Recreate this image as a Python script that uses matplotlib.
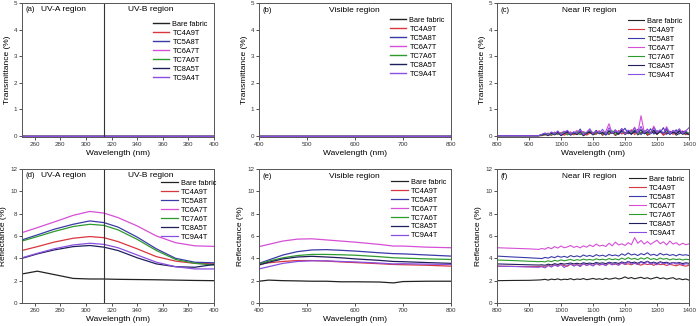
import numpy as np
import matplotlib
matplotlib.use("Agg")
import matplotlib.pyplot as plt

plt.rcParams['font.family'] = ['Liberation Sans', 'DejaVu Sans']

samples = ["Bare fabric", "TC4A9T", "TC5A8T", "TC6A7T", "TC7A6T", "TC8A5T", "TC9A4T"]
colors = ["#222222", "#d9363e", "#3a3aa8", "#d64fd6", "#2e9a2e", "#1f1f5c", "#8a4fe0"]

# ---- wavelength grids ----
wl_uv = [250, 262, 275, 290, 303, 314, 325, 340, 355, 370, 385, 400]
wl_vis = [400, 420, 450, 480, 510, 540, 570, 600, 650, 680, 700, 750, 800]
wl_nir = np.concatenate([[800, 850, 900, 930], np.arange(940, 1401, 10)])
wl_uv_flat = [250, 400]
wl_vis_flat = [400, 800]

# ---- transmittance (%) ----
trans_uv_flat = [0.0, 0.0]
trans_vis_flat = [0.0, 0.0]
trans_nir = {
    "Bare fabric": [0, 0, 0, 0,
        0.02, 0.05, 0.00, 0.08, 0.03, 0.10, 0.01, 0.06, 0.12, 0.02, 0.09, 0.04, 0.11, 0.00, 0.07, 0.13,
        0.03, 0.08, 0.15, 0.02, 0.10, 0.05, 0.14, 0.01, 0.09, 0.18, 0.04, 0.12, 0.06, 0.20, 0.03, 0.11,
        0.16, 0.02, 0.08, 0.14, 0.05, 0.19, 0.03, 0.10, 0.07, 0.15, 0.02, 0.09, 0.12, 0.04, 0.08],
    "TC4A9T": [0, 0, 0, 0,
        0.00, 0.03, 0.07, 0.01, 0.10, 0.04, 0.12, 0.02, 0.08, 0.14, 0.03, 0.11, 0.06, 0.16, 0.02, 0.09,
        0.13, 0.05, 0.18, 0.03, 0.12, 0.07, 0.15, 0.02, 0.20, 0.06, 0.13, 0.09, 0.22, 0.04, 0.14, 0.08,
        0.17, 0.03, 0.12, 0.19, 0.06, 0.14, 0.02, 0.11, 0.16, 0.05, 0.13, 0.08, 0.18, 0.04, 0.10],
    "TC5A8T": [0, 0, 0, 0,
        0.04, 0.09, 0.02, 0.12, 0.05, 0.15, 0.03, 0.10, 0.18, 0.04, 0.13, 0.07, 0.25, 0.03, 0.12, 0.16,
        0.05, 0.20, 0.08, 0.14, 0.02, 0.17, 0.10, 0.22, 0.05, 0.15, 0.28, 0.07, 0.18, 0.11, 0.24, 0.04,
        0.16, 0.09, 0.26, 0.06, 0.19, 0.12, 0.30, 0.05, 0.17, 0.10, 0.22, 0.07, 0.14, 0.18, 0.06],
    "TC6A7T": [0, 0, 0, 0,
        0.02, 0.06, 0.10, 0.03, 0.14, 0.05, 0.11, 0.17, 0.04, 0.13, 0.08, 0.20, 0.05, 0.15, 0.09, 0.22,
        0.06, 0.12, 0.18, 0.07, 0.16, 0.45, 0.08, 0.19, 0.10, 0.26, 0.06, 0.17, 0.12, 0.32, 0.09, 0.75,
        0.14, 0.24, 0.08, 0.36, 0.11, 0.20, 0.07, 0.34, 0.10, 0.18, 0.06, 0.22, 0.09, 0.15, 0.05],
    "TC7A6T": [0, 0, 0, 0,
        0.01, 0.04, 0.08, 0.02, 0.11, 0.05, 0.09, 0.14, 0.03, 0.10, 0.06, 0.15, 0.04, 0.12, 0.08, 0.17,
        0.05, 0.11, 0.14, 0.06, 0.13, 0.09, 0.18, 0.05, 0.12, 0.20, 0.07, 0.15, 0.10, 0.21, 0.06, 0.14,
        0.18, 0.08, 0.13, 0.22, 0.07, 0.16, 0.10, 0.19, 0.06, 0.14, 0.09, 0.17, 0.05, 0.12, 0.08],
    "TC8A5T": [0, 0, 0, 0,
        0.03, 0.07, 0.02, 0.10, 0.05, 0.13, 0.02, 0.09, 0.15, 0.04, 0.11, 0.06, 0.16, 0.03, 0.10, 0.14,
        0.05, 0.17, 0.07, 0.12, 0.04, 0.19, 0.08, 0.14, 0.06, 0.21, 0.09, 0.16, 0.05, 0.18, 0.10, 0.23,
        0.07, 0.15, 0.11, 0.20, 0.06, 0.17, 0.09, 0.24, 0.05, 0.13, 0.08, 0.18, 0.06, 0.11, 0.04],
    "TC9A4T": [0, 0, 0, 0,
        0.05, 0.10, 0.03, 0.14, 0.06, 0.18, 0.04, 0.12, 0.20, 0.05, 0.15, 0.08, 0.22, 0.04, 0.13, 0.26,
        0.07, 0.17, 0.10, 0.24, 0.05, 0.30, 0.09, 0.19, 0.12, 0.27, 0.06, 0.21, 0.14, 0.29, 0.08, 0.35,
        0.11, 0.25, 0.07, 0.31, 0.12, 0.22, 0.09, 0.28, 0.06, 0.20, 0.13, 0.26, 0.08, 0.18, 0.30],
}

# ---- reflectance (%) ----
refl_uv = {
    "Bare fabric": [2.60, 2.85, 2.55, 2.20, 2.15, 2.15, 2.12, 2.10, 2.08, 2.05, 2.02, 2.00],
    "TC4A9T": [4.70, 5.05, 5.45, 5.80, 5.95, 5.85, 5.50, 4.85, 4.15, 3.75, 3.55, 3.50],
    "TC5A8T": [5.65, 6.10, 6.60, 7.05, 7.35, 7.20, 6.80, 5.90, 4.85, 4.00, 3.65, 3.60],
    "TC6A7T": [6.30, 6.75, 7.25, 7.85, 8.20, 8.05, 7.65, 6.90, 6.00, 5.40, 5.12, 5.07],
    "TC7A6T": [5.55, 5.95, 6.40, 6.85, 7.05, 6.95, 6.55, 5.70, 4.70, 3.90, 3.55, 3.40],
    "TC8A5T": [4.00, 4.40, 4.75, 5.05, 5.15, 5.00, 4.70, 4.05, 3.50, 3.25, 3.20, 3.45],
    "TC9A4T": [4.05, 4.45, 4.85, 5.20, 5.35, 5.25, 4.95, 4.30, 3.65, 3.25, 3.05, 3.05],
}
refl_vis = {
    "Bare fabric": [1.95, 2.05, 2.00, 1.98, 1.95, 1.95, 1.90, 1.90, 1.88, 1.80, 1.92, 1.95, 1.95],
    "TC4A9T": [3.45, 3.60, 3.72, 3.80, 3.80, 3.75, 3.68, 3.62, 3.52, 3.45, 3.43, 3.38, 3.30],
    "TC5A8T": [3.55, 3.85, 4.30, 4.60, 4.75, 4.78, 4.72, 4.65, 4.50, 4.42, 4.40, 4.30, 4.20],
    "TC6A7T": [5.05, 5.25, 5.55, 5.72, 5.75, 5.65, 5.55, 5.45, 5.25, 5.10, 5.10, 5.00, 4.95],
    "TC7A6T": [3.50, 3.75, 4.05, 4.25, 4.35, 4.35, 4.32, 4.28, 4.15, 4.05, 4.02, 3.95, 3.90],
    "TC8A5T": [3.40, 3.65, 3.95, 4.12, 4.18, 4.12, 4.05, 3.95, 3.82, 3.72, 3.70, 3.62, 3.55],
    "TC9A4T": [3.05, 3.25, 3.55, 3.72, 3.78, 3.78, 3.72, 3.68, 3.58, 3.50, 3.52, 3.48, 3.45],
}
refl_nir = {
    "Bare fabric": [2.00, 2.02, 2.03, 2.06,
        2.08, 2.12, 2.05, 2.14, 2.09, 2.16, 2.07, 2.13, 2.10, 2.18, 2.08, 2.15, 2.11, 2.19, 2.09, 2.14,
        2.20, 2.12, 2.17, 2.10, 2.22, 2.13, 2.18, 2.25, 2.15, 2.21, 2.34, 2.20, 2.28, 2.17, 2.24, 2.30,
        2.19, 2.26, 2.15, 2.23, 2.31, 2.18, 2.25, 2.14, 2.21, 2.27, 2.12, 2.18, 2.09, 2.15, 2.05],
    "TC4A9T": [3.30, 3.28, 3.25, 3.26,
        3.30, 3.22, 3.38, 3.28, 3.42, 3.31, 3.45, 3.35, 3.29, 3.48, 3.36, 3.44, 3.33, 3.50, 3.39, 3.46,
        3.35, 3.52, 3.41, 3.47, 3.38, 3.55, 3.43, 3.49, 3.40, 3.58, 3.45, 3.51, 3.42, 3.56, 3.47, 3.39,
        3.53, 3.44, 3.50, 3.37, 3.54, 3.43, 3.48, 3.36, 3.46, 3.40, 3.33, 3.44, 3.36, 3.30, 3.38],
    "TC5A8T": [4.20, 4.12, 4.05, 4.00,
        3.98, 4.08, 4.02, 4.15, 4.06, 4.20, 4.10, 4.18, 4.08, 4.25, 4.14, 4.22, 4.12, 4.30, 4.18, 4.26,
        4.15, 4.33, 4.21, 4.28, 4.17, 4.35, 4.24, 4.30, 4.20, 4.40, 4.27, 4.48, 4.30, 4.38, 4.25, 4.42,
        4.32, 4.50, 4.28, 4.36, 4.24, 4.45, 4.30, 4.38, 4.26, 4.34, 4.22, 4.36, 4.28, 4.32, 4.25],
    "TC6A7T": [4.95, 4.90, 4.85, 4.80,
        4.88, 4.82, 4.98, 4.86, 5.05, 4.92, 5.10, 4.95, 5.02, 5.15, 4.98, 5.08, 4.94, 5.12, 5.00, 5.20,
        5.05, 5.28, 5.10, 5.18, 5.06, 5.35, 5.12, 5.45, 5.20, 5.30, 5.15, 5.40, 5.22, 5.85, 5.35, 5.60,
        5.28, 5.50, 5.25, 5.45, 5.62, 5.30, 5.48, 5.20, 5.55, 5.28, 5.40, 5.18, 5.35, 5.22, 5.30],
    "TC7A6T": [3.85, 3.80, 3.74, 3.70,
        3.72, 3.68, 3.78, 3.70, 3.82, 3.75, 3.86, 3.78, 3.84, 3.90, 3.80, 3.88, 3.82, 3.93, 3.85, 3.90,
        3.83, 3.96, 3.87, 3.92, 3.85, 3.98, 3.88, 3.95, 3.86, 4.02, 3.90, 4.06, 3.92, 4.00, 3.88, 4.04,
        3.93, 4.08, 3.90, 3.98, 3.87, 4.03, 3.92, 3.99, 3.86, 3.96, 3.89, 3.94, 3.85, 3.92, 3.88],
    "TC8A5T": [3.50, 3.46, 3.42, 3.40,
        3.42, 3.38, 3.48, 3.41, 3.52, 3.45, 3.55, 3.48, 3.53, 3.58, 3.50, 3.56, 3.49, 3.60, 3.53, 3.58,
        3.51, 3.63, 3.55, 3.60, 3.52, 3.65, 3.57, 3.62, 3.54, 3.68, 3.58, 3.72, 3.60, 3.66, 3.56, 3.70,
        3.61, 3.74, 3.58, 3.66, 3.55, 3.69, 3.60, 3.65, 3.54, 3.63, 3.57, 3.62, 3.53, 3.60, 3.55],
    "TC9A4T": [3.30, 3.27, 3.23, 3.20,
        3.25, 3.15, 3.35, 3.22, 3.40, 3.28, 3.45, 3.18, 3.38, 3.50, 3.30, 3.44, 3.26, 3.52, 3.36, 3.47,
        3.32, 3.56, 3.40, 3.49, 3.35, 3.60, 3.42, 3.55, 3.38, 3.64, 3.45, 3.70, 3.48, 3.58, 3.43, 3.66,
        3.50, 3.72, 3.46, 3.60, 3.42, 3.65, 3.50, 3.58, 3.44, 3.62, 3.48, 3.55, 3.42, 3.52, 3.47],
}

W, H = 696, 326
fig = plt.figure(figsize=(W / 100, H / 100), dpi=100)


def make_ax(left_px, top_px):
    return fig.add_axes([left_px / W, (H - top_px - 134) / H, 192 / W, 134 / H])


def style(ax, xlim, xticks, ylim, yticks, ylabel):
    ax.set_xlim(*xlim)
    ax.set_ylim(*ylim)
    ax.set_xticks(xticks)
    ax.set_yticks(yticks)
    ax.tick_params(labelsize=4.5, length=2, width=0.6, pad=1.5, colors="#333333")
    for s in ax.spines.values():
        s.set_color("#555555")
        s.set_linewidth(0.7)
    ax.set_xlabel("Wavelength (nm)", fontsize=6, labelpad=2)
    ax.set_ylabel(ylabel, fontsize=6, labelpad=2)


def add_legend(ax, x, y):
    ax.legend(loc="upper left", bbox_to_anchor=(x, y), frameon=False, fontsize=5.3,
              handlelength=2.3, handletextpad=0.4, labelspacing=0.25, borderpad=0, borderaxespad=0)


panels = [
    ("a", 22, 3), ("b", 259, 3), ("c", 497, 3),
    ("d", 22, 169), ("e", 259, 169), ("f", 497, 169),
]
axs = {k: make_ax(l, t) for k, l, t in panels}

for name, c in zip(samples, colors):
    axs["a"].plot(wl_uv_flat, trans_uv_flat, color=c, lw=1.0, label=name)
    axs["b"].plot(wl_vis_flat, trans_vis_flat, color=c, lw=1.0, label=name)
    axs["c"].plot(wl_nir, trans_nir[name], color=c, lw=0.8, label=name)
    axs["d"].plot(wl_uv, refl_uv[name], color=c, lw=0.9, label=name)
    axs["e"].plot(wl_vis, refl_vis[name], color=c, lw=0.9, label=name)
    axs["f"].plot(wl_nir, refl_nir[name], color=c, lw=0.8, label=name)

style(axs["a"], (250, 400), range(260, 401, 20), (-0.05, 5), range(0, 6), "Transmittance (%)")
style(axs["b"], (400, 800), range(400, 801, 100), (-0.05, 5), range(0, 6), "Transmittance (%)")
style(axs["c"], (800, 1400), range(800, 1401, 100), (-0.05, 5), range(0, 6), "Transmittance (%)")
style(axs["d"], (250, 400), range(260, 401, 20), (0, 12), range(0, 13, 2), "Reflectance (%)")
style(axs["e"], (400, 800), range(400, 801, 100), (0, 12), range(0, 13, 2), "Reflectance (%)")
style(axs["f"], (800, 1400), range(800, 1401, 100), (0, 12), range(0, 13, 2), "Reflectance (%)")

for k in ("a", "d"):
    axs[k].axvline(314, color="#333333", lw=0.8)
    axs[k].text(0.02, 0.955, f"({k})", transform=axs[k].transAxes, fontsize=5.5, va="center")
    axs[k].text(0.10, 0.955, "UV-A region", transform=axs[k].transAxes, fontsize=6, va="center")
    axs[k].text(0.55, 0.955, "UV-B region", transform=axs[k].transAxes, fontsize=6, va="center")
for k in ("b", "e"):
    axs[k].text(0.02, 0.945, f"({k})", transform=axs[k].transAxes, fontsize=5.5, va="center")
    axs[k].text(0.495, 0.945, "Visible region", transform=axs[k].transAxes, fontsize=6,
                va="center", ha="center")
for k in ("c", "f"):
    axs[k].text(0.02, 0.945, f"({k})", transform=axs[k].transAxes, fontsize=5.5, va="center")
    axs[k].text(0.48, 0.945, "Near IR region", transform=axs[k].transAxes, fontsize=6,
                va="center", ha="center")

add_legend(axs["a"], 0.68, 0.87)
add_legend(axs["b"], 0.68, 0.90)
add_legend(axs["c"], 0.68, 0.89)
add_legend(axs["d"], 0.725, 0.92)
add_legend(axs["e"], 0.69, 0.93)
add_legend(axs["f"], 0.69, 0.95)

fig.savefig("out.png", dpi=100)
